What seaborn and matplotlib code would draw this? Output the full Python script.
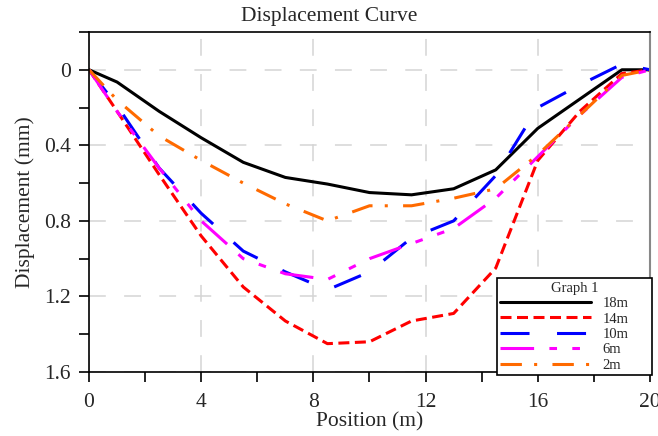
import numpy as np
import pandas as pd
import matplotlib.pyplot as plt
import matplotlib.ticker as mticker
import seaborn as sns

# data
position = [0, 1, 2.5, 4, 5.5, 7, 8.5, 10, 11.5, 13, 14.5, 16, 17.5, 19, 20]
d18 = [0, 0.065, 0.22, 0.36, 0.49, 0.57, 0.605, 0.65, 0.662, 0.63, 0.53, 0.31, 0.155, 0.0, 0]
d14 = [0, 0.22, 0.555, 0.88, 1.15, 1.33, 1.45, 1.44, 1.33, 1.29, 1.05, 0.48, 0.22, 0.02, 0]
d10 = [0, 0.19, 0.52, 0.76, 0.96, 1.07, 1.165, 1.07, 0.89, 0.8, 0.56, 0.2, 0.08, -0.03, 0]
d6 = [0, 0.22, 0.52, 0.8, 1.0, 1.08, 1.11, 1.0, 0.92, 0.84, 0.68, 0.46, 0.24, 0.04, 0]
d2 = [0, 0.16, 0.35, 0.48, 0.6, 0.71, 0.8, 0.72, 0.72, 0.68, 0.63, 0.45, 0.24, 0.03, 0]
series = ["18m", "14m", "10m", "6m", "2m"]
colors = ["black", "#ff0000", "#0000ff", "#ff00ff", "#ff6a00"]

df = pd.concat([pd.DataFrame({"Position": position, "Displacement": v, "depth": s})
                for s, v in zip(series, [d18, d14, d10, d6, d2])])

sns.set_style("ticks")
plt.rcParams["font.family"] = ["Liberation Serif", "DejaVu Serif"]

fig = plt.figure(figsize=(6.58, 4.36), dpi=100)
ax = fig.add_axes([0.1353, 0.1468, 0.8525, 0.7798])

dashes = {"18m": "", "14m": (3.6, 1.8), "10m": (9.5, 9),
          "6m": (11, 5, 2.5, 5, 2.5, 5), "2m": (7, 4, 1, 5)}
sns.lineplot(data=df, x="Position", y="Displacement", hue="depth", style="depth",
             palette=dict(zip(series, colors)), dashes=dashes,
             hue_order=series, style_order=series, linewidth=2.2, ax=ax)

ax.set_xlim(0, 20)
ax.set_ylim(1.6, -0.2)
ax.xaxis.set_major_locator(mticker.MultipleLocator(4))
ax.xaxis.set_minor_locator(mticker.MultipleLocator(2))
ax.yaxis.set_major_locator(mticker.FixedLocator([0, 0.4, 0.8, 1.2, 1.6]))
ax.yaxis.set_minor_locator(mticker.MultipleLocator(0.2))
ax.yaxis.set_major_formatter(mticker.FuncFormatter(lambda v, p: f"{v:g}"))
ax.tick_params(which="both", direction="out", length=7, width=1.2, color="black",
               labelsize=15.5)
ax.tick_params(axis="x", pad=8)
ax.tick_params(axis="y", pad=6)
ax.grid(True, which="major", color="#d4d4d4", linestyle=(0, (11, 12)), linewidth=1.1)

for side in ["left", "bottom", "top"]:
    ax.spines[side].set_color("black")
    ax.spines[side].set_linewidth(1.2)
ax.spines["right"].set_color("#888888")
ax.spines["right"].set_linewidth(1.5)

ax.set_xlabel("Position (m)", fontsize=15.5, labelpad=0)
ax.set_ylabel("Displacement (mm)", fontsize=15.5)
ax.yaxis.set_label_coords(-0.097, 0.5)
fig.text(0.5, 0.962, "Displacement Curve", ha="center", va="center", fontsize=15.5)

handles, labels = ax.get_legend_handles_labels()
leg = ax.legend(handles, labels, title="Graph 1", loc="lower left",
                bbox_to_anchor=(0.727, -0.01, 0.277, 0.28), mode="expand",
                borderaxespad=0, fancybox=False,
                edgecolor="black", framealpha=1, fontsize=10.5, title_fontsize=10.5,
                handlelength=6.2, labelspacing=0.15, borderpad=0.25,
                handletextpad=0.8)
leg.get_frame().set_linewidth(1.2)

fig.savefig("out.png", dpi=100)
